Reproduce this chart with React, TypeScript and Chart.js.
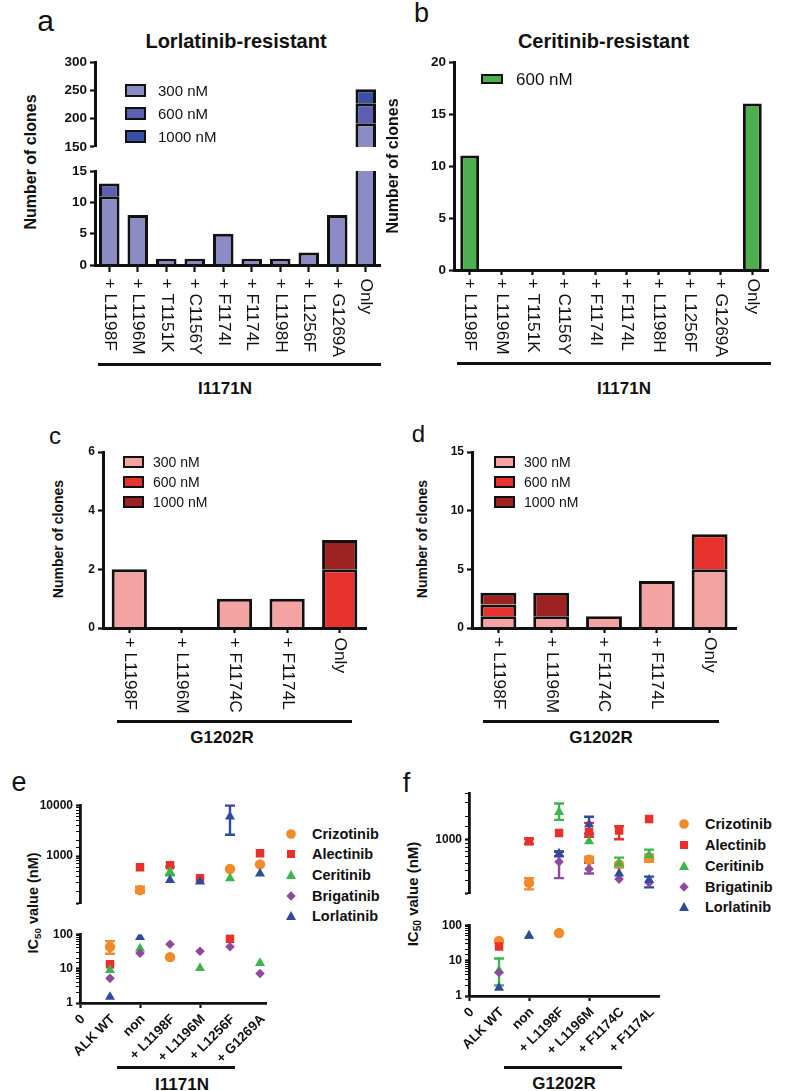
import React, { useEffect, useRef } from "react";
import { Chart, registerables } from "chart.js";

Chart.register(...registerables);

const FONT = "'Liberation Sans', Arial, Helvetica, sans-serif";
const INK = "#111111";

// ---------------- Panel a / b : I1171N clones ----------------
const i1171nCategories = ["+ L1198F", "+ L1196M", "+ T1151K", "+ C1156Y", "+ F1174I", "+ F1174L", "+ L1198H", "+ L1256F", "+ G1269A", "Only"];
const aClones300 = [11, 8, 1, 1, 5, 1, 1, 2, 8, 192];
const aClones600 = [2, 0, 0, 0, 0, 0, 0, 0, 0, 35];
const aClones1000 = [0, 0, 0, 0, 0, 0, 0, 0, 0, 25];
const bClones600 = [11, 0, 0, 0, 0, 0, 0, 0, 0, 16];

// ---------------- Panel c / d : G1202R clones ----------------
const g1202rCategories = ["+ L1198F", "+ L1196M", "+ F1174C", "+ F1174L", "Only"];
const cClones300 = [2, 0, 1, 1, 0];
const cClones600 = [0, 0, 0, 0, 2];
const cClones1000 = [0, 0, 0, 0, 1];
const dClones300 = [1, 1, 1, 4, 5];
const dClones600 = [1, 0, 0, 0, 3];
const dClones1000 = [1, 2, 0, 0, 0];

// ---------------- Panel e : IC50, I1171N ----------------
const eTickLabels = ["0", "ALK WT", "non", "+ L1198F", "+ L1196M", "+ L1256F", "+ G1269A"];
const eCrizotinib = [43, 213, 21.5, null, 556, 685];
const eCrizotinibErr = [[27, 63], [190, 250], null, null, null, null];
const eAlectinib = [13.4, 605, 660, 366, 74, 1135];
const eAlectinibErr = [null, null, null, null, null, null];
const eCeritinib = [9.1, 38, 490, 10.3, 366, 14.5];
const eCeritinibErr = [null, null, [420, 620], null, null, null];
const eBrigatinib = [5.2, 28, 51, 32, 43, 7.2];
const eBrigatinibErr = [null, null, null, null, null, null];
const eLorlatinib = [1.5, 82, 337, 315, 5970, 452];
const eLorlatinibErr = [null, null, null, null, [2630, 9800], null];

// ---------------- Panel f : IC50, G1202R ----------------
const fTickLabels = ["0", "ALK WT", "non", "+ L1198F", "+ L1196M", "+ F1174C", "+ F1174L"];
const fCrizotinib = [36, 278, 60, 552, 481, 578];
const fCrizotinibErr = [null, [228, 319], null, [505, 604], null, [518, 645]];
const fAlectinib = [25, 955, 1222, 1256, 1315, 1859];
const fAlectinibErr = [null, [880, 1040], null, [1093, 1652], [1017, 1500], null];
const fCeritinib = [5.2, 50, 2276, 955, 490, 633];
const fCeritinibErr = [[2, 11.5], null, [1808, 2937], null, [440, 588], [560, 746]];
const fBrigatinib = [4.6, null, 518, 420, 310, 278];
const fBrigatinibErr = [null, null, [319, 700], [366, 504], null, null];
const fLorlatinib = [1.7, 50, 663, 1578, 366, 304];
const fLorlatinibErr = [null, null, [610, 706], [1200, 1985], null, [242, 334]];

// ---------------- styles ----------------
const PURPLE = ["#8b8bc6", "#5d60b2", "#3a50a4"];
const GREEN = "#4cb04f";
const REDS = ["#f4a3a3", "#e8322e", "#9e2222"];
const DRUGS = [
  { name: "Crizotinib", color: "#f08a2b", shape: "circle", r: 5.2, order: 5 },
  { name: "Alectinib", color: "#e8302c", shape: "rect", r: 6, order: 4 },
  { name: "Ceritinib", color: "#3db54a", shape: "triangle", r: 5.8, order: 3 },
  { name: "Brigatinib", color: "#8e4b9e", shape: "rectRot", r: 4.8, order: 2 },
  { name: "Lorlatinib", color: "#2f4b9c", shape: "triangle", r: 5.8, order: 1 },
];
const E_VALUES = [eCrizotinib, eAlectinib, eCeritinib, eBrigatinib, eLorlatinib];
const E_ERRORS = [eCrizotinibErr, eAlectinibErr, eCeritinibErr, eBrigatinibErr, eLorlatinibErr];
const F_VALUES = [fCrizotinib, fAlectinib, fCeritinib, fBrigatinib, fLorlatinib];
const F_ERRORS = [fCrizotinibErr, fAlectinibErr, fCeritinibErr, fBrigatinibErr, fLorlatinibErr];

type Rect = { L: number; T: number; R: number; B: number };
type Margins = { l: number; t: number; r: number; b: number };

// ---------------- plugins ----------------
function verticalLabels(labels: string[], size: number, offset: number) {
  return {
    id: "verticalLabels",
    afterDraw(chart: any) {
      const ctx = chart.ctx;
      const xs = chart.scales.x;
      const y0 = chart.chartArea.bottom + offset;
      ctx.save();
      ctx.font = `${size}px ${FONT}`;
      ctx.fillStyle = INK;
      ctx.textAlign = "left";
      ctx.textBaseline = "middle";
      labels.forEach((lab, i) => {
        const x = xs.getPixelForValue(i);
        ctx.save();
        ctx.translate(x, y0);
        ctx.rotate(Math.PI / 2);
        ctx.scale(1.05, 1);
        ctx.fillText(lab, 0, 0);
        ctx.restore();
      });
      ctx.restore();
    },
  };
}

function diagonalLabels(labels: string[], size: number, dx: number, dy: number) {
  return {
    id: "diagonalLabels",
    afterDraw(chart: any) {
      const ctx = chart.ctx;
      const xs = chart.scales.x;
      const y0 = chart.chartArea.bottom;
      ctx.save();
      ctx.font = `bold ${size}px ${FONT}`;
      ctx.fillStyle = INK;
      ctx.textAlign = "right";
      ctx.textBaseline = "middle";
      labels.forEach((lab, i) => {
        const x = xs.getPixelForValue(i);
        ctx.save();
        ctx.translate(x + dx, y0 + dy);
        ctx.rotate(-Math.PI / 4);
        ctx.fillText(lab, 0, 0);
        ctx.restore();
      });
      ctx.restore();
    },
  };
}

const errorBarPlugin = {
  id: "errorBars",
  beforeDatasetsDraw(chart: any) {
    const { ctx, chartArea: a } = chart;
    const xs = chart.scales.x;
    const ys = chart.scales.y;
    ctx.save();
    ctx.beginPath();
    ctx.rect(a.left, a.top - 2, a.right - a.left, a.bottom - a.top + 4);
    ctx.clip();
    chart.data.datasets.forEach((ds: any) => {
      (ds.errorBars || []).forEach((e: any, i: number) => {
        if (!e) return;
        const x = xs.getPixelForValue(i + 1);
        const y1 = ys.getPixelForValue(e[0]);
        const y2 = ys.getPixelForValue(e[1]);
        ctx.strokeStyle = ds.backgroundColor;
        ctx.lineWidth = 2.4;
        ctx.beginPath();
        ctx.moveTo(x, y1);
        ctx.lineTo(x, y2);
        ctx.moveTo(x - 5, y1);
        ctx.lineTo(x + 5, y1);
        ctx.moveTo(x - 5, y2);
        ctx.lineTo(x + 5, y2);
        ctx.stroke();
      });
    });
    ctx.restore();
  },
};

// ---------------- chart configs ----------------
function barChart(p: {
  labels: string[];
  series: { label: string; data: number[]; color: string }[];
  min: number;
  max: number;
  step: number;
  showX: boolean;
  barPct: number;
  yFont: number;
  xFont: number;
  xOffset: number;
  xTickLen: number;
}) {
  return (m: Margins) => ({
    type: "bar",
    data: {
      labels: p.labels,
      datasets: p.series.map((s) => ({
        label: s.label,
        data: s.data.map((v) => (v === 0 ? null : v)),
        backgroundColor: s.color,
        borderColor: INK,
        borderWidth: { top: 3, left: 3, right: 3, bottom: 0 },
        borderSkipped: false,
        inflateAmount: 0,
        barPercentage: p.barPct,
        categoryPercentage: 1,
        clip: 0,
      })),
    },
    options: {
      animation: false,
      responsive: false,
      devicePixelRatio: 1,
      layout: { padding: { top: m.t, right: m.r, bottom: p.showX ? 0 : m.b, left: 0 } },
      plugins: { legend: { display: false }, tooltip: { enabled: false } },
      scales: {
        x: {
          type: "category",
          stacked: true,
          display: p.showX,
          offset: true,
          grid: { offset: false, drawOnChartArea: false, drawTicks: true, tickLength: p.xTickLen, tickColor: INK, tickWidth: 2.2 },
          border: { display: true, color: INK, width: 3, z: 1 },
          ticks: { display: false },
          afterFit: (s: any) => {
            s.height = m.b;
          },
        },
        y: {
          type: "linear",
          stacked: true,
          min: p.min,
          max: p.max,
          ticks: { stepSize: p.step, color: INK, padding: 3, font: { family: FONT, size: p.yFont, weight: "bold" } },
          grid: { drawOnChartArea: false, drawTicks: true, tickLength: 5, tickColor: INK, tickWidth: 2.2 },
          border: { display: true, color: INK, width: 3 },
          afterFit: (s: any) => {
            s.width = m.l;
          },
        },
      },
    },
    plugins: p.showX ? [verticalLabels(p.labels, p.xFont, p.xOffset)] : [],
  });
}

const isPow10 = (v: number) => Math.abs(Math.log10(v) - Math.round(Math.log10(v))) < 1e-9;

function scatterChart(p: {
  values: (number | null)[][];
  errors: any[][];
  upper: boolean;
  split: number;
  ymin: number;
  ymax: number;
  xmax: number;
  labels: string[];
  showX: boolean;
}) {
  return (m: Margins) => {
    const inSection = (v: number | null) => v != null && (p.upper ? v >= p.split : v < p.split);
    return {
      type: "scatter",
      data: {
        datasets: DRUGS.map((d, k) => ({
          label: d.name,
          data: p.values[k].map((v, i) => ({ x: i + 1, y: inSection(v) ? v : null })),
          errorBars: p.errors[k].map((e, i) => (inSection(p.values[k][i]) ? e : null)),
          backgroundColor: d.color,
          borderColor: d.color,
          borderWidth: 0,
          pointStyle: d.shape,
          pointRadius: d.r,
          order: d.order,
        })),
      },
      options: {
        animation: false,
        responsive: false,
        devicePixelRatio: 1,
        layout: { padding: { top: m.t, right: m.r, bottom: p.showX ? 0 : m.b, left: 0 } },
        plugins: { legend: { display: false }, tooltip: { enabled: false } },
        scales: {
          x: {
            type: "linear",
            display: p.showX,
            min: 0,
            max: p.xmax,
            ticks: { display: false, stepSize: 1 },
            grid: {
              drawOnChartArea: false,
              drawTicks: true,
              tickLength: 5,
              tickWidth: 2.2,
              tickColor: (c: any) => (c.tick && Math.abs(c.tick.value % 2) < 1e-6 ? INK : "rgba(0,0,0,0)"),
            },
            border: { display: true, color: INK, width: 2.8, z: 1 },
            afterFit: (s: any) => {
              s.height = m.b;
            },
          },
          y: {
            type: "logarithmic",
            min: p.ymin,
            max: p.ymax,
            ticks: {
              autoSkip: false,
              color: INK,
              padding: 3,
              font: { family: FONT, size: 12, weight: "bold" },
              callback: (v: any) => (isPow10(Number(v)) ? String(v) : ""),
            },
            grid: {
              drawOnChartArea: false,
              drawTicks: true,
              tickLength: 4,
              tickColor: INK,
              tickWidth: (c: any) => (c.tick && (isPow10(c.tick.value) || c.index === 0) ? 2.2 : 1),
            },
            border: { display: true, color: INK, width: 2.8 },
            afterFit: (s: any) => {
              s.width = m.l;
            },
          },
        },
      },
      plugins: p.showX ? [errorBarPlugin, diagonalLabels(p.labels, 13.5, 3, 14)] : [errorBarPlugin],
    };
  };
}

// ---------------- React helpers ----------------
function ChartBox({ plot, m, make }: { plot: Rect; m: Margins; make: (m: Margins) => any }) {
  const ref = useRef<HTMLCanvasElement | null>(null);
  const w = Math.round(plot.R - plot.L + m.l + m.r);
  const h = Math.round(plot.B - plot.T + m.t + m.b);
  useEffect(() => {
    if (!ref.current) return;
    const chart = new Chart(ref.current, make(m) as any);
    return () => chart.destroy();
  }, []);
  return (
    <canvas
      ref={ref}
      width={w}
      height={h}
      style={{ position: "absolute", left: plot.L - m.l, top: plot.T - m.t, width: w, height: h }}
    />
  );
}

function Txt(props: { x: number; y: number; size: number; bold?: boolean; left?: boolean; rotate?: number; children: any }) {
  const { x, y, size, bold, left, rotate = 0, children } = props;
  return (
    <div
      style={{
        position: "absolute",
        left: x,
        top: y,
        transform: `translate(${left ? "0" : "-50%"}, -50%) rotate(${rotate}deg)`,
        fontFamily: FONT,
        fontSize: size,
        fontWeight: bold ? 700 : 400,
        lineHeight: 1,
        whiteSpace: "nowrap",
        color: INK,
      }}
    >
      {children}
    </div>
  );
}

function HLine({ x1, x2, y }: { x1: number; x2: number; y: number }) {
  return <div style={{ position: "absolute", left: x1, top: y - 1, width: x2 - x1, height: 2.5, background: INK }} />;
}

function Swatch({ x, y, w, h, color }: { x: number; y: number; w: number; h: number; color: string }) {
  return (
    <div
      style={{
        position: "absolute",
        left: x,
        top: y - h / 2,
        width: w,
        height: h,
        background: color,
        border: `2.5px solid ${INK}`,
        boxSizing: "border-box",
      }}
    />
  );
}

function Marker({ x, y, shape, color }: { x: number; y: number; shape: string; color: string }) {
  let el: any;
  if (shape === "circle") el = <circle cx={8} cy={8} r={4.8} fill={color} />;
  else if (shape === "rect") el = <rect x={4} y={4} width={8} height={8} fill={color} />;
  else if (shape === "triangle") el = <polygon points="8,3 13,12 3,12" fill={color} />;
  else el = <polygon points="8,3.3 12.7,8 8,12.7 3.3,8" fill={color} />;
  return (
    <svg style={{ position: "absolute", left: x - 8, top: y - 8 }} width={16} height={16}>
      {el}
    </svg>
  );
}

function BarLegend({ x, tx, ys, w, h, size, items }: { x: number; tx: number; ys: number[]; w: number; h: number; size: number; items: { label: string; color: string }[] }) {
  return (
    <>
      {items.map((it, i) => (
        <React.Fragment key={it.label}>
          <Swatch x={x} y={ys[i]} w={w} h={h} color={it.color} />
          <Txt x={tx} y={ys[i]} size={size} left>
            {it.label}
          </Txt>
        </React.Fragment>
      ))}
    </>
  );
}

function DrugLegend({ mx, tx, ys }: { mx: number; tx: number; ys: number[] }) {
  return (
    <>
      {DRUGS.map((d, i) => (
        <React.Fragment key={d.name}>
          <Marker x={mx} y={ys[i]} shape={d.shape} color={d.color} />
          <Txt x={tx} y={ys[i]} size={14.5} bold left>
            {d.name}
          </Txt>
        </React.Fragment>
      ))}
    </>
  );
}

function IC50Title({ x, y, size }: { x: number; y: number; size: number }) {
  return (
    <Txt x={x} y={y} size={size} bold rotate={-90}>
      IC<sub style={{ fontSize: "0.68em", lineHeight: 0, verticalAlign: "-0.3em" }}>50</sub> value (nM)
    </Txt>
  );
}

// ---------------- App ----------------
export default function App() {
  const aSeries = [
    { label: "300 nM", data: aClones300, color: PURPLE[0] },
    { label: "600 nM", data: aClones600, color: PURPLE[1] },
    { label: "1000 nM", data: aClones1000, color: PURPLE[2] },
  ];
  const cSeries = [
    { label: "300 nM", data: cClones300, color: REDS[0] },
    { label: "600 nM", data: cClones600, color: REDS[1] },
    { label: "1000 nM", data: cClones1000, color: REDS[2] },
  ];
  const dSeries = [
    { label: "300 nM", data: dClones300, color: REDS[0] },
    { label: "600 nM", data: dClones600, color: REDS[1] },
    { label: "1000 nM", data: dClones1000, color: REDS[2] },
  ];
  const redLegend = [
    { label: "300 nM", color: REDS[0] },
    { label: "600 nM", color: REDS[1] },
    { label: "1000 nM", color: REDS[2] },
  ];

  return (
    <div style={{ position: "absolute", left: 0, top: 0, width: 788, height: 1091, overflow: "hidden", background: "#fff" }}>
      {/* ---------- a ---------- */}
      <Txt x={45.5} y={21} size={30}>a</Txt>
      <Txt x={236} y={41} size={20} bold>Lorlatinib-resistant</Txt>
      <Txt x={31} y={162} size={16} bold rotate={-90}>Number of clones</Txt>
      <ChartBox
        plot={{ L: 95, T: 62, R: 380, B: 156 }}
        m={{ l: 55, t: 12, r: 5, b: 2 }}
        make={barChart({ labels: i1171nCategories, series: aSeries, min: 150, max: 300, step: 50, showX: false, barPct: 0.72, yFont: 13.5, xFont: 16.5, xOffset: 14, xTickLen: 7 })}
      />
      <ChartBox
        plot={{ L: 95, T: 170, R: 380, B: 265 }}
        m={{ l: 55, t: 10, r: 5, b: 95 }}
        make={barChart({ labels: i1171nCategories, series: aSeries, min: 0, max: 15, step: 5, showX: true, barPct: 0.72, yFont: 13.5, xFont: 16.5, xOffset: 13.5, xTickLen: 7 })}
      />
      <BarLegend x={125} tx={158} ys={[90, 113, 136]} w={21} h={13} size={15} items={aSeries} />
      <HLine x1={98} x2={381} y={364} />
      <Txt x={225} y={388} size={17} bold>I1171N</Txt>

      {/* ---------- b ---------- */}
      <Txt x={421.5} y={12.5} size={27}>b</Txt>
      <Txt x={603.5} y={41} size={20} bold>Ceritinib-resistant</Txt>
      <Txt x={392.5} y={166} size={16} bold rotate={-90}>Number of clones</Txt>
      <ChartBox
        plot={{ L: 454, T: 62, R: 768, B: 270 }}
        m={{ l: 55, t: 12, r: 6, b: 92 }}
        make={barChart({ labels: i1171nCategories, series: [{ label: "600 nM", data: bClones600, color: GREEN }], min: 0, max: 20, step: 5, showX: true, barPct: 0.6, yFont: 13.5, xFont: 16.5, xOffset: 8.5, xTickLen: 5 })}
      />
      <BarLegend x={481} tx={516} ys={[79]} w={22} h={10} size={17} items={[{ label: "600 nM", color: GREEN }]} />
      <HLine x1={457} x2={771} y={363} />
      <Txt x={624} y={388} size={17} bold>I1171N</Txt>

      {/* ---------- c ---------- */}
      <Txt x={55} y={435.5} size={24}>c</Txt>
      <Txt x={57.5} y={539} size={14} bold rotate={-90}>Number of clones</Txt>
      <ChartBox
        plot={{ L: 103, T: 452, R: 366, B: 628 }}
        m={{ l: 33, t: 12, r: 6, b: 90 }}
        make={barChart({ labels: g1202rCategories, series: cSeries, min: 0, max: 6, step: 2, showX: true, barPct: 0.67, yFont: 12, xFont: 16.5, xOffset: 9.5, xTickLen: 5 })}
      />
      <BarLegend x={123} tx={153} ys={[462, 482, 502]} w={21} h={12} size={14} items={redLegend} />
      <HLine x1={117} x2={352} y={721} />
      <Txt x={222} y={737} size={17} bold>G1202R</Txt>

      {/* ---------- d ---------- */}
      <Txt x={418.5} y={433.5} size={24}>d</Txt>
      <Txt x={421.5} y={539} size={14} bold rotate={-90}>Number of clones</Txt>
      <ChartBox
        plot={{ L: 472, T: 452, R: 736, B: 628 }}
        m={{ l: 36, t: 12, r: 6, b: 90 }}
        make={barChart({ labels: g1202rCategories, series: dSeries, min: 0, max: 15, step: 5, showX: true, barPct: 0.68, yFont: 12, xFont: 16.5, xOffset: 9, xTickLen: 5 })}
      />
      <BarLegend x={494} tx={524} ys={[462, 482, 502]} w={21} h={12} size={14} items={redLegend} />
      <HLine x1={483} x2={719} y={721} />
      <Txt x={601} y={737} size={17} bold>G1202R</Txt>

      {/* ---------- e ---------- */}
      <Txt x={19} y={782} size={27}>e</Txt>
      <IC50Title x={33} y={903} size={14.5} />
      <ChartBox
        plot={{ L: 80, T: 805, R: 268, B: 912 }}
        m={{ l: 45, t: 10, r: 4, b: 2 }}
        make={scatterChart({ values: E_VALUES, errors: E_ERRORS, upper: true, split: 100, ymin: 115, ymax: 10000, xmax: 6.2, labels: eTickLabels, showX: false })}
      />
      <ChartBox
        plot={{ L: 80, T: 932, R: 268, B: 1003 }}
        m={{ l: 45, t: 8, r: 4, b: 58 }}
        make={scatterChart({ values: E_VALUES, errors: E_ERRORS, upper: false, split: 100, ymin: 1, ymax: 100, xmax: 6.2, labels: eTickLabels, showX: true })}
      />
      <DrugLegend mx={291} tx={312} ys={[834, 854, 875, 896, 916]} />
      <HLine x1={117} x2={235} y={1067} />
      <Txt x={182} y={1084} size={17} bold>I1171N</Txt>

      {/* ---------- f ---------- */}
      <Txt x={406.5} y={782.5} size={27}>f</Txt>
      <IC50Title x={412} y={894} size={15} />
      <ChartBox
        plot={{ L: 469, T: 793, R: 661, B: 902 }}
        m={{ l: 45, t: 10, r: 4, b: 2 }}
        make={scatterChart({ values: F_VALUES, errors: F_ERRORS, upper: true, split: 100, ymin: 200, ymax: 4000, xmax: 6.33, labels: fTickLabels, showX: false })}
      />
      <ChartBox
        plot={{ L: 469, T: 923, R: 661, B: 996 }}
        m={{ l: 45, t: 8, r: 4, b: 62 }}
        make={scatterChart({ values: F_VALUES, errors: F_ERRORS, upper: false, split: 100, ymin: 1, ymax: 100, xmax: 6.33, labels: fTickLabels, showX: true })}
      />
      <DrugLegend mx={684} tx={705} ys={[824, 845, 866, 887, 907]} />
      <HLine x1={504} x2={622} y={1067} />
      <Txt x={564} y={1083} size={17} bold>G1202R</Txt>
    </div>
  );
}
